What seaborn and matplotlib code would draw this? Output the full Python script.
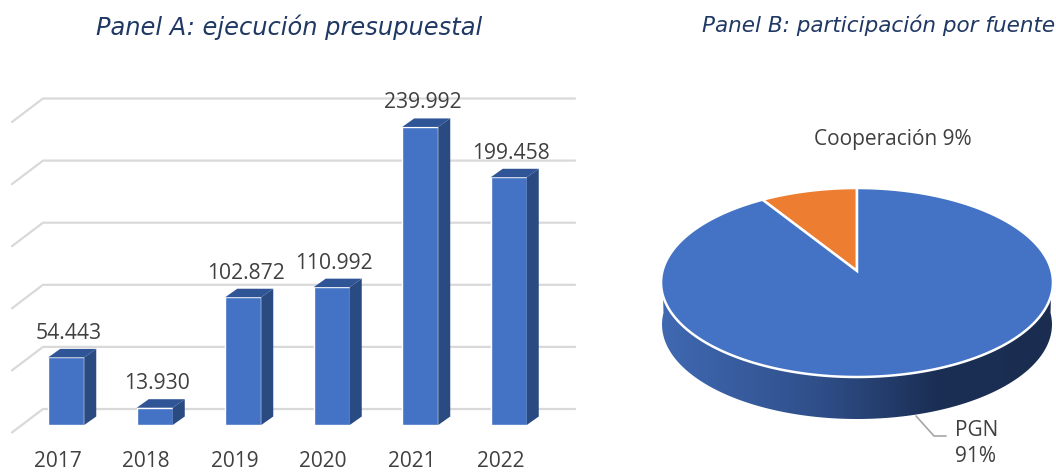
import numpy as np
import pandas as pd
import matplotlib
matplotlib.use("Agg")
import matplotlib.pyplot as plt
from matplotlib.colors import LinearSegmentedColormap
from matplotlib.transforms import ScaledTranslation
import seaborn as sns

years = ["2017", "2018", "2019", "2020", "2021", "2022"]
budget = [54443, 13930, 102872, 110992, 239992, 199458]
grid_values = [0, 50000, 100000, 150000, 200000, 250000]
source_names = ["Cooperación", "PGN"]
source_shares = [9, 91]

W, H = 1056, 472
BLUE = "#4472C4"
ORANGE = "#ED7D31"
TEXT = "#404040"
TITLE = "#1F3864"

sns.set_theme(style="white")
plt.rcParams["font.family"] = ["Open Sans", "DejaVu Sans"]

fig = plt.figure(figsize=(W / 100, H / 100), dpi=100)

# Panel A: axes placed in pixels, 1.242 px for every 1000 units
px_per_unit = 1.242 / 1000
step = 88.5
y_top = 270000
ax = fig.add_axes([22 / W, (H - 425) / H, step * 6 / W, y_top * px_per_unit / H])
df = pd.DataFrame({"year": years, "budget": budget})
sns.barplot(data=df, x="year", y="budget", color=BLUE, saturation=1, width=0.407, ax=ax, zorder=3)
ax.set_xlabel("")
ax.set_ylabel("")
ax.set_yticks([])
sns.despine(ax=ax, left=True, bottom=True)

# fake 3d depth, in data units
dx = 12 / step
dy = 8.5 / px_per_unit
lift = 16 / px_per_unit
wall_left = -0.263
wall_right = 5.75
floor_dx = 31 / step
floor_dy = 23.5 / px_per_unit
for g in grid_values:
    y = g + lift
    ax.plot([wall_left - floor_dx, wall_left, wall_right], [y - floor_dy, y, y],
            color="#D9D9D9", lw=1.6, clip_on=False, zorder=1, solid_joinstyle="miter")

for bar, value in zip(ax.patches, budget):
    x0 = bar.get_x()
    x1 = x0 + bar.get_width()
    ax.fill([x0, x0 + dx, x1 + dx, x1], [value, value + dy, value + dy, value],
            color="#2F5597", lw=0, zorder=3, clip_on=False)
    ax.fill([x1, x1 + dx, x1 + dx, x1], [0, dy, value + dy, value],
            color="#2A4A82", lw=0, zorder=3, clip_on=False)
    ax.annotate(f"{value:,}".replace(",", "."), (x0 + bar.get_width() / 2, value),
                xytext=(2.5, 24), textcoords="offset pixels", ha="center", va="center",
                fontsize=15.2, color=TEXT, annotation_clip=False)

# the extra lines above stretch the limits, so pin them after drawing
ax.set_xlim(-0.5, 5.5)
ax.set_ylim(0, y_top)

ax.tick_params(axis="x", length=0, pad=18.5, labelsize=15, labelcolor=TEXT)
for label in ax.get_xticklabels():
    label.set_transform(label.get_transform() + ScaledTranslation(-0.085, 0, fig.dpi_scale_trans))

# Panel B: overlay in pixel coordinates, pie seen in perspective
pie = fig.add_axes([0, 0, 1, 1], facecolor="none")
pie.axis("off")

cx, cy = 857, 271
a, b, k = 194.5, 93.1, 0.1217
depth = 42


def project(theta):
    u, v = np.cos(theta), np.sin(theta)
    w = 1 + k * v
    return cx + a * u / w, cy - b * v / w


# side wall with a horizontal gradient
t = np.linspace(np.pi, 2 * np.pi, 200)
xs, ys = project(t)
side_x = np.r_[xs, xs[::-1] * 0.995 + 0.005 * cx]
side_y = np.r_[ys, ys[::-1] + depth]
side_cmap = LinearSegmentedColormap.from_list(
    "side", [(0, "#4069B2"), (0.4, "#2F4F8A"), (0.7, "#1B2F55"), (1, "#1A2D50")])
img = pie.imshow(np.linspace(0, 1, 256)[None, :], cmap=side_cmap, aspect="auto",
                 extent=(xs.min(), xs.max(), ys.max() + depth, ys.min()), zorder=1)
outline = pie.fill(side_x, side_y, color="none", lw=0, zorder=1)[0]
img.set_clip_path(outline)

# slices start at the top and run counterclockwise
start = np.pi / 2
for share, color in zip(source_shares, [ORANGE, BLUE]):
    stop = start + 2 * np.pi * share / sum(source_shares)
    th = np.linspace(start, stop, 300)
    px, py = project(th)
    pie.fill(np.r_[cx, px], np.r_[cy, py], facecolor=color, edgecolor="white",
             lw=1.8, joinstyle="miter", zorder=2)
    start = stop

pie.plot([916, 934, 946], [416, 436, 436], color="#A6A6A6", lw=1.2, zorder=3)
pie.text(893, 140, f"{source_names[0]} {source_shares[0]}%", ha="center", va="center",
         fontsize=15, color=TEXT)
pie.text(977, 430, source_names[1], ha="center", va="center", fontsize=15, color=TEXT)
pie.text(975, 457, f"{source_shares[1]}%", ha="center", va="center", fontsize=15, color=TEXT)

pie.set_xlim(0, W)
pie.set_ylim(H, 0)

fig.text(289 / W, 1 - 27 / H, "Panel A: ejecución presupuestal", ha="center", va="center",
         fontsize=17.4, style="italic", family="DejaVu Sans", color=TITLE)
fig.text(879 / W, 1 - 25 / H, "Panel B: participación por fuente", ha="center", va="center",
         fontsize=15.5, style="italic", family="DejaVu Sans", color=TITLE)

fig.savefig("out.png", dpi=100)
